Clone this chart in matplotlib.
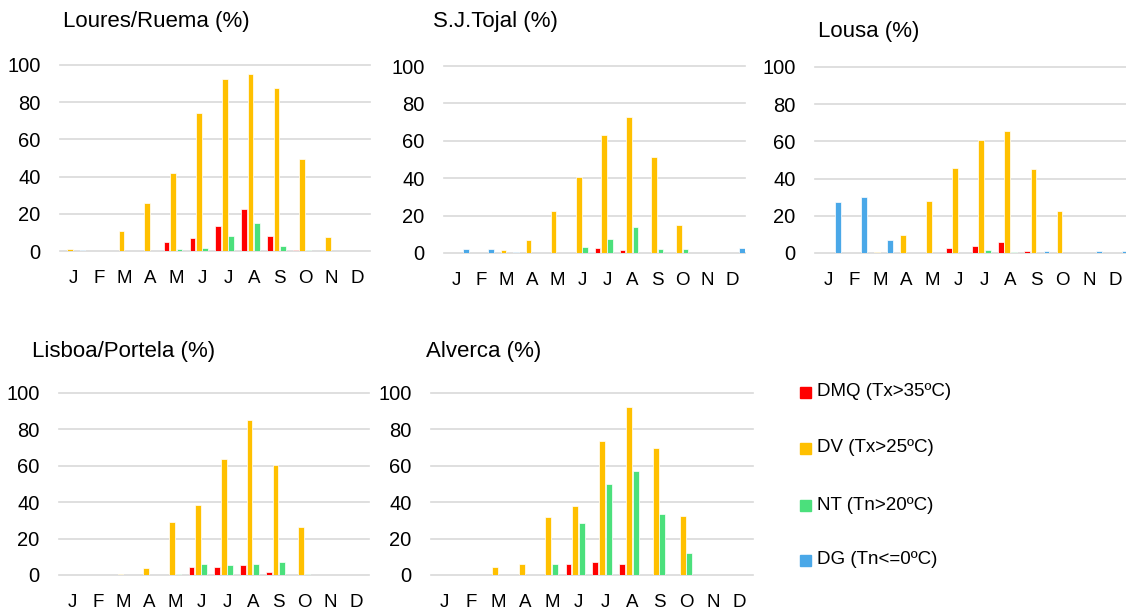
import matplotlib
matplotlib.use('Agg')
import matplotlib.pyplot as plt
import numpy as np

# data (% of days)
months = ['J', 'F', 'M', 'A', 'M', 'J', 'J', 'A', 'S', 'O', 'N', 'D']
series_names = ['DMQ (Tx>35ºC)', 'DV (Tx>25ºC)', 'NT (Tn>20ºC)', 'DG (Tn<=0ºC)']
colors = ['#FF0000', '#FFC000', '#4BE07C', '#4AA8E8']

loures_dmq = [0, 0, 0, 0, 4.8, 6.8, 13.6, 22.8, 8.1, 0.3, 0, 0]
loures_dv = [1.1, 0, 10.8, 26, 41.7, 74.1, 92.5, 95.3, 87.6, 49.4, 7.5, 0]
loures_nt = [0, 0, 0, 0, 0.9, 1.6, 8.1, 15.1, 2.5, 0.3, 0, 0]
loures_dg = [0.3, 0, 0.2, 0, 0, 0, 0, 0, 0, 0, 0, 0]

tojal_dmq = [0, 0, 0, 0, 0.2, 0.2, 2.5, 1.6, 0, 0, 0, 0]
tojal_dv = [0, 0, 1.6, 6.8, 22.6, 40.4, 63, 72.6, 51.2, 15.1, 0, 0]
tojal_nt = [0, 0, 0, 0, 0, 3.4, 7.3, 13.7, 2, 2, 0, 0]
tojal_dg = [2, 2, 0.7, 0, 0, 0.4, 0, 0, 0, 0, 0, 2.5]

lousa_dmq = [0, 0, 0, 0, 0, 2.5, 3.8, 6.1, 0.9, 0, 0, 0]
lousa_dv = [0, 0, 0.4, 9.9, 28, 45.9, 60.9, 65.4, 45.3, 22.4, 0, 0]
lousa_nt = [0, 0, 0, 0, 0, 0, 1.4, 0.7, 0, 0, 0, 0]
lousa_dg = [27.6, 30.3, 7, 0, 0, 0, 0, 0, 0.9, 0, 0.9, 0.9]

lisboa_dmq = [0, 0, 0, 0, 0, 4.2, 4.6, 5.3, 1.7, 0, 0, 0]
lisboa_dv = [0, 0, 0.3, 3.9, 29, 38.5, 63.7, 85.3, 60.2, 26.2, 0, 0]
lisboa_nt = [0, 0, 0, 0, 0.3, 6.1, 5.5, 6.2, 7.2, 0.6, 0, 0]
lisboa_dg = [0, 0, 0, 0, 0, 0, 0, 0, 0, 0, 0, 0]

alverca_dmq = [0, 0, 0, 0, 0, 6.2, 7, 5.9, 0, 0, 0, 0]
alverca_dv = [0, 0, 4.4, 6, 31.7, 38.1, 73.6, 92.5, 69.6, 32.2, 0, 0]
alverca_nt = [0, 0, 0, 0, 6, 28.6, 49.8, 57.3, 33.7, 12.1, 0, 0]
alverca_dg = [0, 0, 0, 0, 0, 0, 0, 0, 0, 0, 0, 0]

stations = [
    ('Loures/Ruema (%)', [loures_dmq, loures_dv, loures_nt, loures_dg]),
    ('S.J.Tojal (%)', [tojal_dmq, tojal_dv, tojal_nt, tojal_dg]),
    ('Lousa (%)', [lousa_dmq, lousa_dv, lousa_nt, lousa_dg]),
    ('Lisboa/Portela (%)', [lisboa_dmq, lisboa_dv, lisboa_nt, lisboa_dg]),
    ('Alverca (%)', [alverca_dmq, alverca_dv, alverca_nt, alverca_dg]),
]

plt.rcParams['font.family'] = ['Liberation Sans', 'DejaVu Sans']

W, H = 1126, 615
fig = plt.figure(figsize=(W / 100, H / 100), dpi=100)

# axes rectangles in pixels: left, top(y=100), right, bottom(y=0)
rects = [(60, 65, 370, 251), (444, 66, 745, 253), (815, 67, 1128, 253),
         (59, 393, 369, 575), (431, 393, 753, 575)]
# title positions in pixels (left, center y)
title_pos = [(63, 22), (433, 22), (818, 32), (32, 352), (426, 352)]

x = np.arange(len(months))
for (name, data), (l, t, r, b), (tx, ty) in zip(stations, rects, title_pos):
    ax = fig.add_axes([l / W, 1 - b / H, (r - l) / W, (b - t) / H])
    for i, vals in enumerate(data):
        ax.bar(x + (i - 1.5) * 0.25, vals, width=0.22, color=colors[i],
               edgecolor='white', linewidth=0.5, zorder=3)
    ax.set_xlim(-0.5, 11.5)
    ax.set_ylim(0, 100)
    ax.set_yticks(range(0, 101, 20))
    ax.set_xticks(x)
    ax.set_xticklabels(months)
    ax.tick_params(axis='y', length=0, pad=14, labelsize=14.5)
    ax.tick_params(axis='x', length=0, pad=14, labelsize=13.5)
    ax.grid(axis='y', color='#d9d9d9', linewidth=1.2, zorder=0)
    ax.set_axisbelow(True)
    for s in ax.spines.values():
        s.set_visible(False)
    for yl in ax.get_ygridlines():
        yl.set_clip_on(False)
    fig.text(tx / W, 1 - ty / H, name, fontsize=16, ha='left', va='center')

# legend
leg_y = [392, 448, 505, 560]
for i, name in enumerate(series_names):
    fig.patches.append(plt.Rectangle((800 / W, 1 - (leg_y[i] + 6) / H), 11 / W, 11 / H,
                                     transform=fig.transFigure, color=colors[i]))
    fig.text(817 / W, 1 - leg_y[i] / H, name, fontsize=13.5, ha='left', va='center')

fig.savefig('out.png', dpi=100)
